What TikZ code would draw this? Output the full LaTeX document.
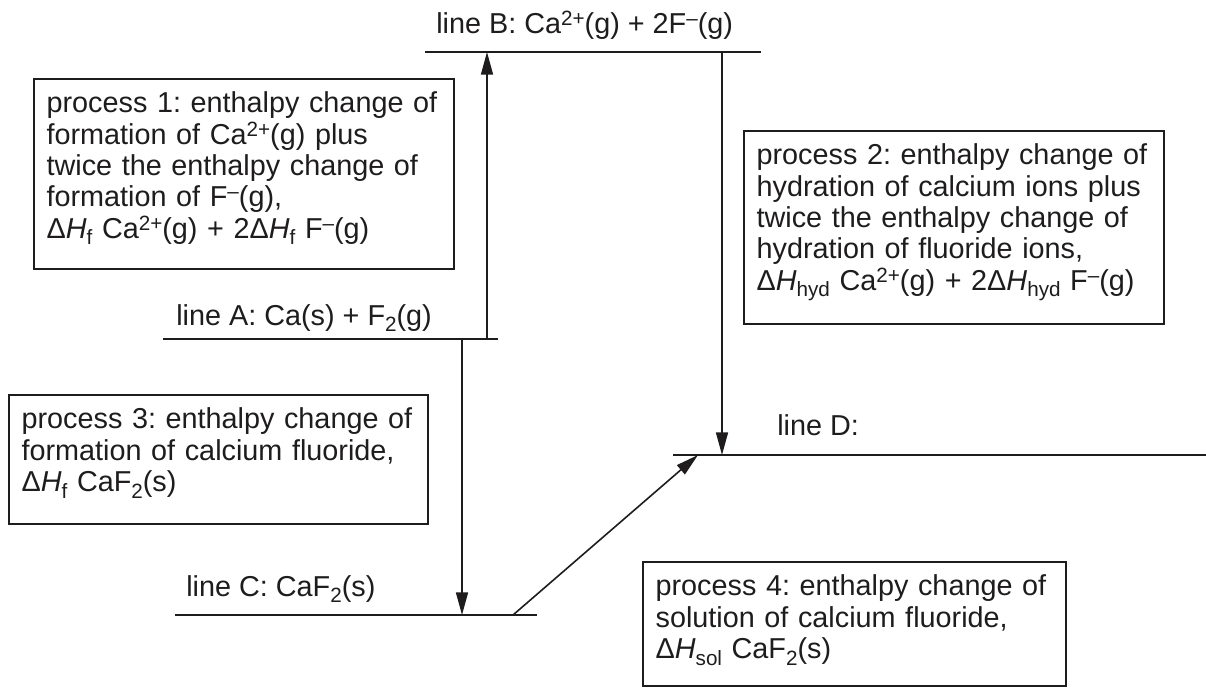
\documentclass[tikz,border=0pt]{standalone}
\usepackage{fontspec}
\setmainfont{Liberation Sans}
\usetikzlibrary{arrows.meta}
\definecolor{ink}{RGB}{30,28,29}
\newcommand\supr[1]{\raisebox{6pt}{\fontsize{15.5}{15.5}\selectfont #1}}
\newcommand\subr[1]{\raisebox{-5pt}{\fontsize{15.5}{15.5}\selectfont #1}}
\frenchspacing
\begin{document}
\begin{tikzpicture}[x=0.75pt,y=-0.75pt,
  every node/.style={font=\fontsize{21.6}{23.5}\selectfont\frenchspacing, text=ink},
  level/.style={draw=ink, line width=2pt},
  arr/.style={draw=ink, line width=1.2pt, -{Triangle[length=17pt,width=9pt]}},
  procbox/.style={draw=ink, line width=1.4pt, anchor=north west, align=left,
    inner xsep=0pt, inner ysep=0pt, execute at begin node={\leftskip=9.5pt}},
  lbl/.style={anchor=base west, inner sep=0pt}]
\useasboundingbox (0,0) rectangle (1206,687);

% level lines
\coordinate (A1) at (163,339); \coordinate (A2) at (498,339);
\coordinate (B1) at (425,52);  \coordinate (B2) at (761,52);
\coordinate (C1) at (175,615); \coordinate (C2) at (537,615);
\coordinate (D1) at (673,455); \coordinate (D2) at (1206,455);
\draw[level] (A1) -- (A2);
\draw[level] (B1) -- (B2);
\draw[level] (C1) -- (C2);
\draw[level] (D1) -- (D2);

% level labels
\node[lbl] (LB) at (436,33) {line B: Ca\supr{2+}(g) + 2F\supr{–}(g)};
\node[lbl] (LA) at (176,325) {line A: Ca(s) + F\subr{2}(g)};
\node[lbl] (LC) at (186,596) {line C: CaF\subr{2}(s)};
\node[lbl] (LD) at (777,435) {line D:};

% arrows
\coordinate (p1s) at (487,339); \coordinate (p1e) at (487,52);
\coordinate (p2s) at (722,52);  \coordinate (p2e) at (722,455);
\coordinate (p3s) at (462,339); \coordinate (p3e) at (462,615);
\coordinate (p4s) at (513,615); \coordinate (p4e) at (698,455);
\draw[arr] (p1s) -- (p1e);
\draw[arr] (p2s) -- (p2e);
\draw[arr] (p3s) -- (p3e);
\draw[arr] (p4s) -- (p4e);

% process boxes
\node[procbox, text width=315pt] (P1) at (33,78)
 {\rule{0pt}{25.5pt}process 1: enthalpy change of\\
  formation of Ca\supr{2+}(g) plus\\
  twice the enthalpy change of\\
  formation of F\supr{–}(g),\\
  Δ\textit{H}\subr{f} Ca\supr{2+}(g) + 2Δ\textit{H}\subr{f} F\supr{–}(g)\rule[-23.25pt]{0pt}{23.25pt}};

\node[procbox, text width=315pt] (P2) at (743,130)
 {\rule{0pt}{25.5pt}process 2: enthalpy change of\\
  hydration of calcium ions plus\\
  twice the enthalpy change of\\
  hydration of fluoride ions,\\
  Δ\textit{H}\subr{hyd} Ca\supr{2+}(g) + 2Δ\textit{H}\subr{hyd} F\supr{–}(g)\rule[-25pt]{0pt}{25pt}};

\node[procbox, text width=314pt] (P3) at (8,394)
 {\rule{0pt}{25.5pt}process 3: enthalpy change of\\
  formation of calcium fluoride,\\
  Δ\textit{H}\subr{f} CaF\subr{2}(s)\rule[-24pt]{0pt}{24pt}};

\node[procbox, text width=317pt] (P4) at (642,561)
 {\rule{0pt}{25.5pt}process 4: enthalpy change of\\
  solution of calcium fluoride,\\
  Δ\textit{H}\subr{sol} CaF\subr{2}(s)\rule[-20.5pt]{0pt}{20.5pt}};
\end{tikzpicture}
\end{document}
